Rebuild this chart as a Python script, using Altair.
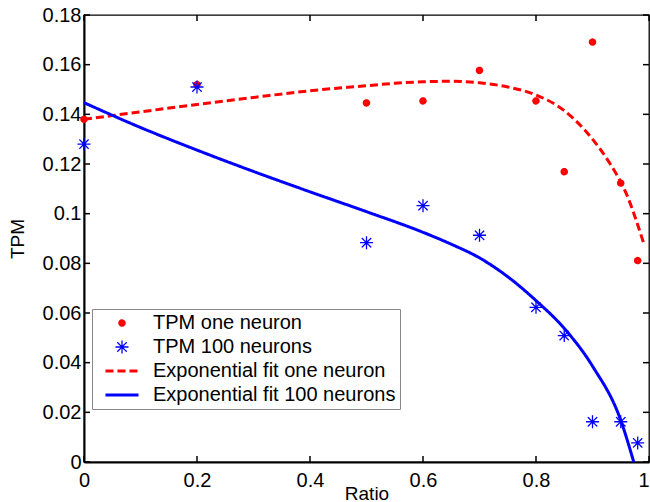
import altair as alt
import pandas as pd

# ---- data ----
series_names = ["TPM one neuron", "TPM 100 neurons",
                "Exponential fit one neuron", "Exponential fit 100 neurons"]

ratio_one = [0.0, 0.2, 0.5, 0.6, 0.7, 0.8, 0.85, 0.9, 0.95, 0.98]
tpm_one = [0.138, 0.152, 0.1446, 0.1454, 0.1577, 0.1454, 0.1169, 0.1691, 0.1123, 0.0811]

ratio_100 = [0.0, 0.2, 0.5, 0.6, 0.7, 0.8, 0.85, 0.9, 0.95, 0.98]
tpm_100 = [0.128, 0.151, 0.0883, 0.1032, 0.0913, 0.0623, 0.0509, 0.0162, 0.0162, 0.0077]

fit_one_x = [0.0, 0.1, 0.2, 0.3, 0.4, 0.5, 0.55, 0.6, 0.65, 0.7, 0.75,
             0.8, 0.85, 0.9, 0.93, 0.96, 0.99]
fit_one_y = [0.138, 0.141, 0.144, 0.1468, 0.1495, 0.1515, 0.1525, 0.1531, 0.1533, 0.1527,
             0.151, 0.1478, 0.1415, 0.130, 0.1205, 0.108, 0.0885]

fit_100_x = [0.0, 0.1, 0.2, 0.3, 0.4, 0.5, 0.6, 0.65, 0.7, 0.75,
             0.8, 0.85, 0.9, 0.95, 0.973]
fit_100_y = [0.1447, 0.1347, 0.1256, 0.117, 0.1088, 0.1008, 0.0925, 0.0877, 0.0822, 0.0746,
             0.065, 0.0538, 0.0386, 0.0168, 0.0]

x_ticks = [0, 0.2, 0.4, 0.6, 0.8, 1.0]
y_ticks = [0, 0.02, 0.04, 0.06, 0.08, 0.1, 0.12, 0.14, 0.16, 0.18]

# ---- styles ----
RED = "#ff0000"
BLUE = "#0000ff"
STAR = "M-1,0L1,0M0,-1L0,1M-0.72,-0.72L0.72,0.72M-0.72,0.72L0.72,-0.72"
LINE = "M-2.36,0L2.36,0"
FONT = "Liberation Sans"
W, H = 565, 447

points_df = pd.DataFrame({
    "ratio": ratio_one + ratio_100,
    "tpm": tpm_one + tpm_100,
    "series": [series_names[0]] * len(ratio_one) + [series_names[1]] * len(ratio_100),
})
fit_df = pd.DataFrame({
    "ratio": fit_one_x + fit_100_x,
    "tpm": fit_one_y + fit_100_y,
    "series": [series_names[2]] * len(fit_one_x) + [series_names[3]] * len(fit_100_x),
})
xt_df = pd.DataFrame({"ratio": x_ticks})
yt_df = pd.DataFrame({"tpm": y_ticks})

xs = alt.Scale(domain=[0, 1], nice=False, zero=False)
ys = alt.Scale(domain=[0, 0.18], nice=False, zero=False)

x_axis = alt.Axis(values=x_ticks, format="~g", labelFlush=False, labelOverlap=False,
                  labelAlign={"condition": {"test": "datum.value >= 1", "value": "right"},
                              "value": "center"},
                  ticks=False, grid=False, domainColor="black", domainWidth=2,
                  labelFont=FONT, labelFontSize=20, labelColor="black", labelPadding=8,
                  title="Ratio", titleFont=FONT, titleFontSize=19, titleFontWeight="normal",
                  titleColor="black", titleY=37, titleBaseline="alphabetic")
y_axis = alt.Axis(values=y_ticks, format="~g", labelFlush=False, labelOverlap=False,
                  ticks=False, grid=False, domainColor="black", domainWidth=2,
                  labelFont=FONT, labelFontSize=20, labelColor="black", labelPadding=3,
                  title="TPM", titleFont=FONT, titleFontSize=19, titleFontWeight="normal",
                  titleColor="black", titleX=-67, titleY=H / 2, titleAngle=270,
                  titleBaseline="middle", titleAlign="center")

legend = alt.Legend(title=None, orient="none", legendX=8, legendY=294,
                    fillColor="white", strokeColor="#888888", padding=4,
                    labelFont=FONT, labelFontSize=20, labelColor="black", labelLimit=0,
                    labelOffset=21, symbolOffset=16, rowPadding=4)

color_scale = alt.Scale(domain=series_names, range=[RED, BLUE, RED, BLUE])
shape_scale = alt.Scale(domain=series_names, range=["circle", STAR, LINE, LINE])
size_scale = alt.Scale(type="ordinal", domain=series_names, range=[16, 169, 196, 196])
dash_scale = alt.Scale(domain=series_names, range=[[1, 0], [1, 0], [8, 4], [1, 0]])
width_scale = alt.Scale(type="ordinal", domain=series_names, range=[3.5, 1.3, 3, 3])

points = alt.Chart(points_df).mark_point(filled=False, opacity=1).encode(
    x=alt.X("ratio:Q", scale=xs, axis=x_axis),
    y=alt.Y("tpm:Q", scale=ys, axis=y_axis),
    color=alt.Color("series:N", scale=color_scale, legend=legend),
    shape=alt.Shape("series:N", scale=shape_scale, legend=legend),
    size=alt.Size("series:N", scale=size_scale, legend=legend),
    strokeDash=alt.StrokeDash("series:N", scale=dash_scale, legend=legend),
    strokeWidth=alt.StrokeWidth("series:N", scale=width_scale, legend=legend),
)

lines = alt.Chart(fit_df).mark_line(interpolate="monotone").encode(
    x=alt.X("ratio:Q", scale=xs, axis=x_axis),
    y=alt.Y("tpm:Q", scale=ys, axis=y_axis),
    color=alt.Color("series:N", scale=color_scale, legend=None),
    strokeDash=alt.StrokeDash("series:N", scale=dash_scale, legend=None),
    strokeWidth=alt.StrokeWidth("series:N", scale=width_scale, legend=None),
)

tick_style = dict(color="black", strokeWidth=1.5)
xt_bottom = alt.Chart(xt_df).mark_rule(**tick_style).encode(
    x=alt.X("ratio:Q", scale=xs, axis=x_axis), y=alt.value(H), y2=alt.value(H - 6))
xt_top = alt.Chart(xt_df).mark_rule(**tick_style).encode(
    x=alt.X("ratio:Q", scale=xs, axis=x_axis), y=alt.value(0), y2=alt.value(6))
yt_left = alt.Chart(yt_df).mark_rule(**tick_style).encode(
    y=alt.Y("tpm:Q", scale=ys, axis=y_axis), x=alt.value(0), x2=alt.value(6))
yt_right = alt.Chart(yt_df).mark_rule(**tick_style).encode(
    y=alt.Y("tpm:Q", scale=ys, axis=y_axis), x=alt.value(W), x2=alt.value(W - 6))

chart = alt.layer(points, lines, xt_bottom, xt_top, yt_left, yt_right).properties(
    width=W, height=H,
    autosize=alt.AutoSizeParams(type="none"),
    padding={"left": 84, "top": 15, "right": 1, "bottom": 40},
    background="white",
).configure_view(stroke="black", strokeWidth=1.3)

chart.save("out.html", embed_options={"renderer": "svg", "actions": False})
